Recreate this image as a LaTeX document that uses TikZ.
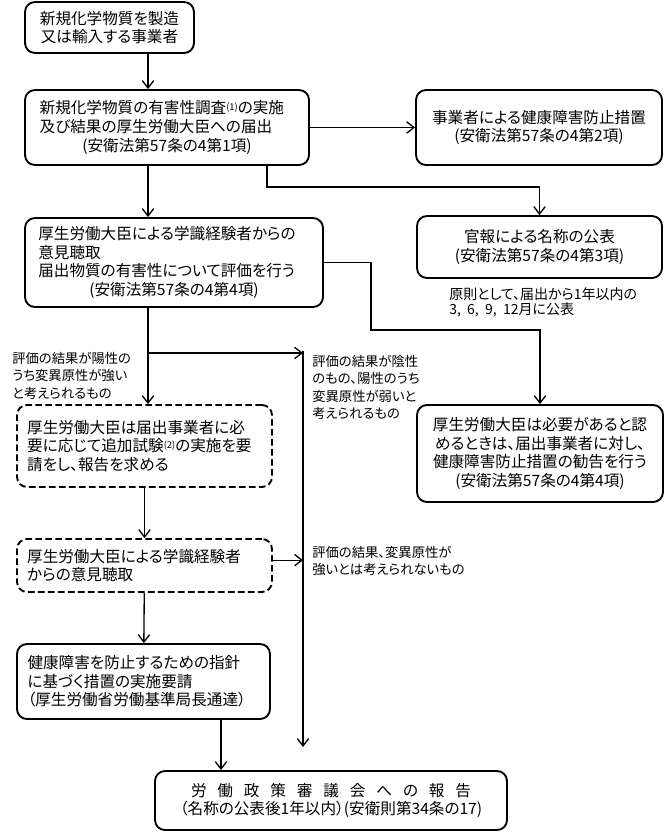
\documentclass[tikz,border=0pt]{standalone}
\usepackage{fontspec}
\setmainfont{Noto Sans CJK JP}[RawFeature={+palt}]
\usetikzlibrary{arrows.meta}

\tikzset{
  stage/.style={rectangle, draw, line width=1.4pt, rounded corners=7.5pt, align=center, inner sep=0pt, font=\fontsize{11.7}{14}\selectfont},
  stagedash/.style={stage, dash pattern=on 5pt off 2.5pt},
  note/.style={anchor=north west, inner sep=0pt, align=left, font=\fontsize{10}{13}\selectfont},
  arrow/.style={-{Straight Barb[length=5.5pt,width=8.5pt]}, line width=1pt},
}

\begin{document}
\begin{tikzpicture}[x=0.75pt, y=-0.75pt]
  \useasboundingbox (0,0) rectangle (664,832);

  % Hauptkette (linke Spalte)
  \node[stage, minimum width=126.75pt, minimum height=38.25pt] (maker) at (109.5,27.5) {新規化学物質を製造\\又は輸入する事業者};
  \node[stage, align=left, text width=191pt, inner xsep=11pt, minimum height=56.25pt] (survey) at (167,127.5)
    {新規化学物質の有害性調査{\fontsize{7}{8}\selectfont\raisebox{0.6ex}{(1)}}の実施\\及び結果の厚生労働大臣への届出\\\makebox[\hsize]{(安衛法第57条の4第1項)}};
  \node[stage, align=left, text width=203.5pt, inner xsep=10pt, minimum height=66.75pt] (hearing) at (174,262.5)
    {厚生労働大臣による学識経験者からの\\意見聴取\\届出物質の有害性について評価を行う\\\makebox[\hsize]{(安衛法第57条の4第4項)}};
  \node[stagedash, align=left, text width=176pt, inner xsep=7.6pt, minimum height=61.5pt] (request) at (144.5,446)
    {厚生労働大臣は届出事業者に必\\要に応じて追加試験{\fontsize{7}{8}\selectfont\raisebox{0.6ex}{(2)}}の実施を要\\請をし、報告を求める};
  \node[stagedash, align=left, text width=176pt, inner xsep=7.6pt, minimum height=39.75pt] (hearing2) at (144.5,565.5)
    {厚生労働大臣による学識経験者\\からの意見聴取};
  \node[stage, align=left, text width=174pt, inner xsep=7.9pt, minimum height=56.25pt] (guideline) at (143.5,681.5)
    {健康障害を防止するための指針\\に基づく措置の実施要請\\（厚生労働省労働基準局長通達）};
  \node[stage, minimum width=264pt, minimum height=44.25pt] (council) at (331,800.5)
    {\makebox[210pt][s]{労\hfill 働\hfill 政\hfill 策\hfill 審\hfill 議\hfill 会\hfill へ\hfill の\hfill 報\hfill 告}\\（名称の公表後1年以内）(安衛則第34条の17)};

  % rechte Spalte
  \node[stage, minimum width=184.5pt, minimum height=56.25pt] (measure) at (539,127.5) {事業者による健康障害防止措置\\(安衛法第57条の4第2項)};
  \node[stage, minimum width=183.75pt, minimum height=46.5pt] (gazette) at (539.5,247) {官報による名称の公表\\(安衛法第57条の4第3項)};
  \node[stage, minimum width=184.5pt, minimum height=72.75pt] (advice) at (540,453.5)
    {厚生労働大臣は必要があると認\\めるときは、届出事業者に対し、\\健康障害防止措置の勧告を行う\\(安衛法第57条の4第4項)};

  % Beschriftungen
  \node[note, font=\fontsize{10.5}{11.5}\selectfont] (timing) at (449,287) {原則として、届出から1年以内の\\3,\ \ 6,\ \ 9,\ \ 12月に公表};
  \node[note] (posstrong) at (12,352) {評価の結果が陽性の\\うち変異原性が強い\\と考えられるもの};
  \node[note] (negweak) at (312,355) {評価の結果が陰性\\のもの、陽性のうち\\変異原性が弱いと\\考えられるもの};
  \node[note] (notstrong) at (312,546) {評価の結果、変異原性が\\強いとは考えられないもの};

  % Hilfspunkte
  \coordinate (spine) at (148,0);
  \coordinate (tap1) at (267,187);
  \coordinate (tap2) at (371,330);
  \coordinate (split) at (148,353);
  \coordinate (rail) at (303,353);
  \coordinate (railend) at (303,747);
  \coordinate (drop) at (221,0);

  % Verbindungen
  \draw[arrow] (maker.south -| spine) -- (survey.north -| spine);
  \draw[arrow] (survey.east) -- (measure.west);
  \draw[arrow] (survey.south -| tap1) -- (tap1) -| (gazette.north);
  \draw[arrow] (survey.south -| spine) -- (hearing.north -| spine);
  \draw[arrow] (hearing.east) -| (tap2) -| (advice.north);
  \draw[arrow] (hearing.south -| spine) -- (request.north -| spine);
  \draw[arrow] (split) -- (rail);
  \draw[arrow] ([yshift=1.5pt]rail) -- (railend);
  \draw[arrow] (request) -- (hearing2);
  \draw[arrow] ([yshift=4pt]hearing2.east) -- ([yshift=4pt]hearing2.east -| rail);
  \draw[arrow] (hearing2) -- (guideline);
  \draw[arrow] (guideline.south -| drop) -- (council.north -| drop);
\end{tikzpicture}
\end{document}
